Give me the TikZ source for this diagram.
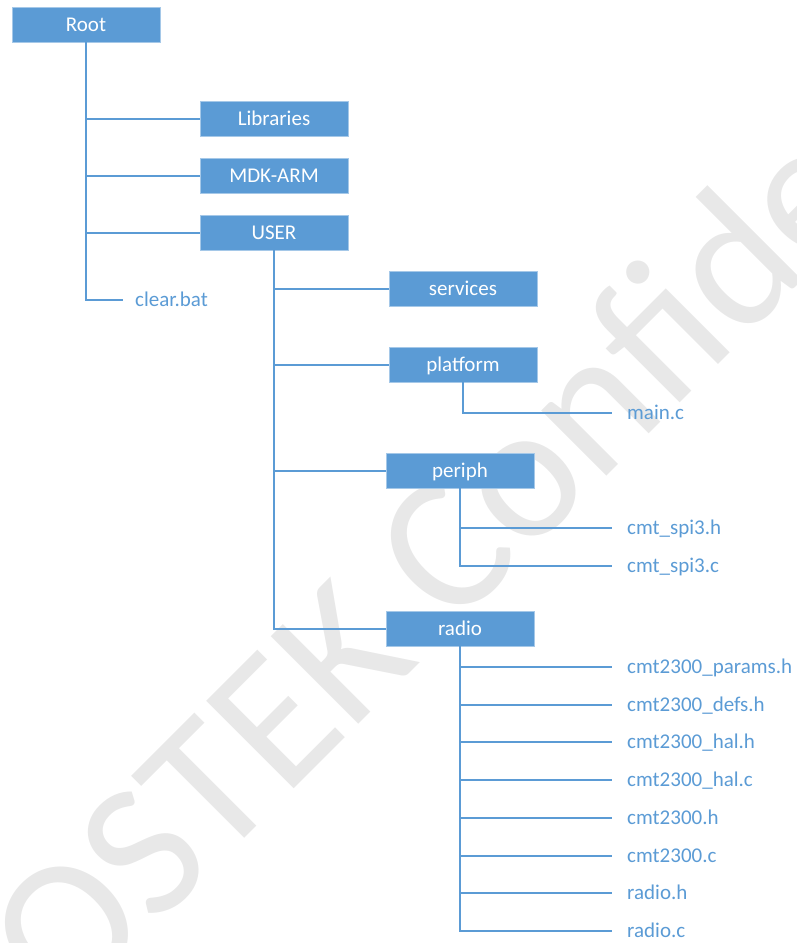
\documentclass[tikz,border=0pt]{standalone}
\usepackage{fontspec}
\setmainfont{Carlito}
\usetikzlibrary{positioning,calc}

\definecolor{dirblue}{HTML}{5B9BD5}
\definecolor{markgray}{HTML}{E8E8E8}

\begin{document}
\begin{tikzpicture}[x=1pt,y=-1pt,
        dirbox/.style={fill=dirblue, draw=dirblue!55!white, line width=0.8pt,
            minimum width=148pt, minimum height=35pt, inner sep=0pt,
            text=white, text height=17pt, text depth=4pt,
            font=\fontsize{21}{24}\selectfont},
        filename/.style={anchor=west, inner xsep=15pt, inner ysep=0pt,
            text=dirblue, text height=17pt, text depth=4pt,
            font=\fontsize{21}{24}\selectfont},
        branch/.style={draw=dirblue, line width=2pt}]

                % Picture size
                \def\picw{797}
                \def\pich{943}
                \useasboundingbox (0,0) rectangle (\picw,\pich);

                % Row pitch of the radio files
                \def\pitch{37.7}

                % ---- watermark ----
                \begin{scope}
                    \clip (0,0) rectangle (\picw,\pich);
                    \node[rotate=45, anchor=base west, inner sep=0pt, text=markgray,
                        font=\fontsize{193}{200}\selectfont] (mark) at (-124,1207) {CMOSTEK Confidential};
                \end{scope}

                % ---- folders ----
                \node[dirbox] (root) at (86,24.5) {Root};
                \node[dirbox] (libs) at (274,118.5) {Libraries};
                \node[dirbox] (mdk) at (274,175.5) {MDK-ARM};
                \node[dirbox] (user) at (274,232.5) {USER};
                \node[dirbox] (services) at (463,288.5) {services};
                \node[dirbox] (platform) at (463,364.5) {platform};
                \node[dirbox] (periph) at (460,470.5) {periph};
                \node[dirbox] (radio) at (460,628.5) {radio};

                % ---- files ----
                \node[filename, inner xsep=12pt] (clearbat) at (123,300) {clear.bat};
                \node[filename] (mainc) at (612,413) {main.c};
                \node[filename] (spih) at (612,528) {cmt\_spi3.h};
                \node[filename] (spic) at (612,566) {cmt\_spi3.c};

                \foreach \name [count=\i] in {cmt2300\_params.h, cmt2300\_defs.h,
                        cmt2300\_hal.h, cmt2300\_hal.c, cmt2300.h, cmt2300.c,
                        radio.h, radio.c} {
                    \node[filename] (rf\i) at (612,{667+(\i-1)*\pitch}) {\name};
                }

                % ---- branches ----
                \draw[branch] (root.south) |- (clearbat.west);
                \foreach \d in {libs,mdk,user} {
                    \draw[branch] (root.south |- \d.west) -- (\d.west);
                }

                \draw[branch] (user.south) |- (radio.west);
                \foreach \d in {services,platform,periph} {
                    \draw[branch] (user.south |- \d.west) -- (\d.west);
                }

                \draw[branch] (platform.south) |- (mainc.west);
                \draw[branch] (periph.south) |- (spih.west);
                \draw[branch] (periph.south) |- (spic.west);

                \foreach \i in {1,...,8} {
                    \draw[branch] (radio.south) |- (rf\i.west);
                }

            \end{tikzpicture}
\end{document}
